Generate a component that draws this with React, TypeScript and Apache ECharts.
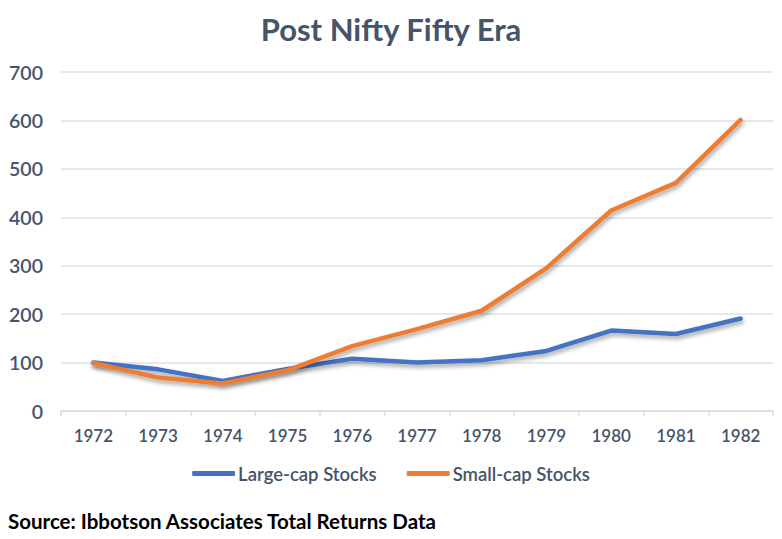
import React, { useEffect, useRef } from "react";
import * as echarts from "echarts";

const years = ["1972", "1973", "1974", "1975", "1976", "1977", "1978", "1979", "1980", "1981", "1982"];
const largeCap = [100, 86, 62, 87, 108, 100, 105, 124, 166, 159, 191];
const smallCap = [99, 69, 57, 84, 134, 169, 207, 295, 414, 471, 601];
const yTicks = { min: 0, max: 700, interval: 100 };

const TEXT = "#44546a";
const FONT = "Lato";

export default function App() {
  const ref = useRef<HTMLDivElement>(null);
  useEffect(() => {
    if (!ref.current) return;
    const chart = echarts.init(ref.current, null, { renderer: "svg" });
    const shadow = {
      shadowColor: "rgba(0,0,0,0.35)",
      shadowBlur: 4,
      shadowOffsetX: 1,
      shadowOffsetY: 3,
    };
    chart.setOption({
      animation: false,
      backgroundColor: "#ffffff",
      title: {
        text: "Post Nifty Fifty Era",
        left: "center",
        top: 8,
        textStyle: { fontFamily: FONT, fontSize: 31, fontWeight: "bold", color: TEXT },
      },
      grid: { left: 61, right: 9, top: 72, bottom: 128 },
      legend: {
        bottom: 51,
        left: "center",
        itemWidth: 43,
        itemHeight: 5,
        itemGap: 30,
        icon: "roundRect",
        textStyle: { fontFamily: FONT, fontSize: 18.5, fontWeight: 600, color: TEXT, padding: [0, 0, 0, -2] },
        data: ["Large-cap Stocks", "Small-cap Stocks"],
      },
      graphic: [
        {
          type: "text",
          left: 8,
          top: 510,
          style: {
            text: "Source: Ibbotson Associates Total Returns Data",
            fontFamily: FONT,
            fontSize: 20.5,
            fontWeight: "bold",
            fill: "#000000",
          },
        },
      ],
      xAxis: {
        type: "category",
        data: years,
        boundaryGap: true,
        axisLine: { lineStyle: { color: "#d9dde3", width: 1.5 } },
        axisTick: { show: true, length: 5, lineStyle: { color: "#d9dde3", width: 1.5 } },
        axisLabel: { fontFamily: FONT, fontSize: 17, fontWeight: 600, color: TEXT, margin: 16 },
      },
      yAxis: {
        type: "value",
        min: yTicks.min,
        max: yTicks.max,
        interval: yTicks.interval,
        axisLine: { show: false },
        axisTick: { show: false },
        splitLine: { lineStyle: { color: "#dde1e6", width: 1.5 } },
        axisLabel: { fontFamily: FONT, fontSize: 19.5, fontWeight: 600, color: TEXT, margin: 18 },
      },
      series: [
        {
          name: "Large-cap Stocks",
          type: "line",
          data: largeCap,
          showSymbol: false,
          symbol: "none",
          itemStyle: { color: "#4472c4" },
          lineStyle: { color: "#4472c4", width: 4.5, cap: "round", join: "round", ...shadow },
        },
        {
          name: "Small-cap Stocks",
          type: "line",
          data: smallCap,
          showSymbol: false,
          symbol: "none",
          itemStyle: { color: "#ed7d31" },
          lineStyle: { color: "#ed7d31", width: 4.5, cap: "round", join: "round", ...shadow },
        },
      ],
    });
    return () => chart.dispose();
  }, []);
  return (
    <div
      ref={ref}
      style={{ position: "absolute", left: 0, top: 0, width: 782, height: 539 }}
    />
  );
}
